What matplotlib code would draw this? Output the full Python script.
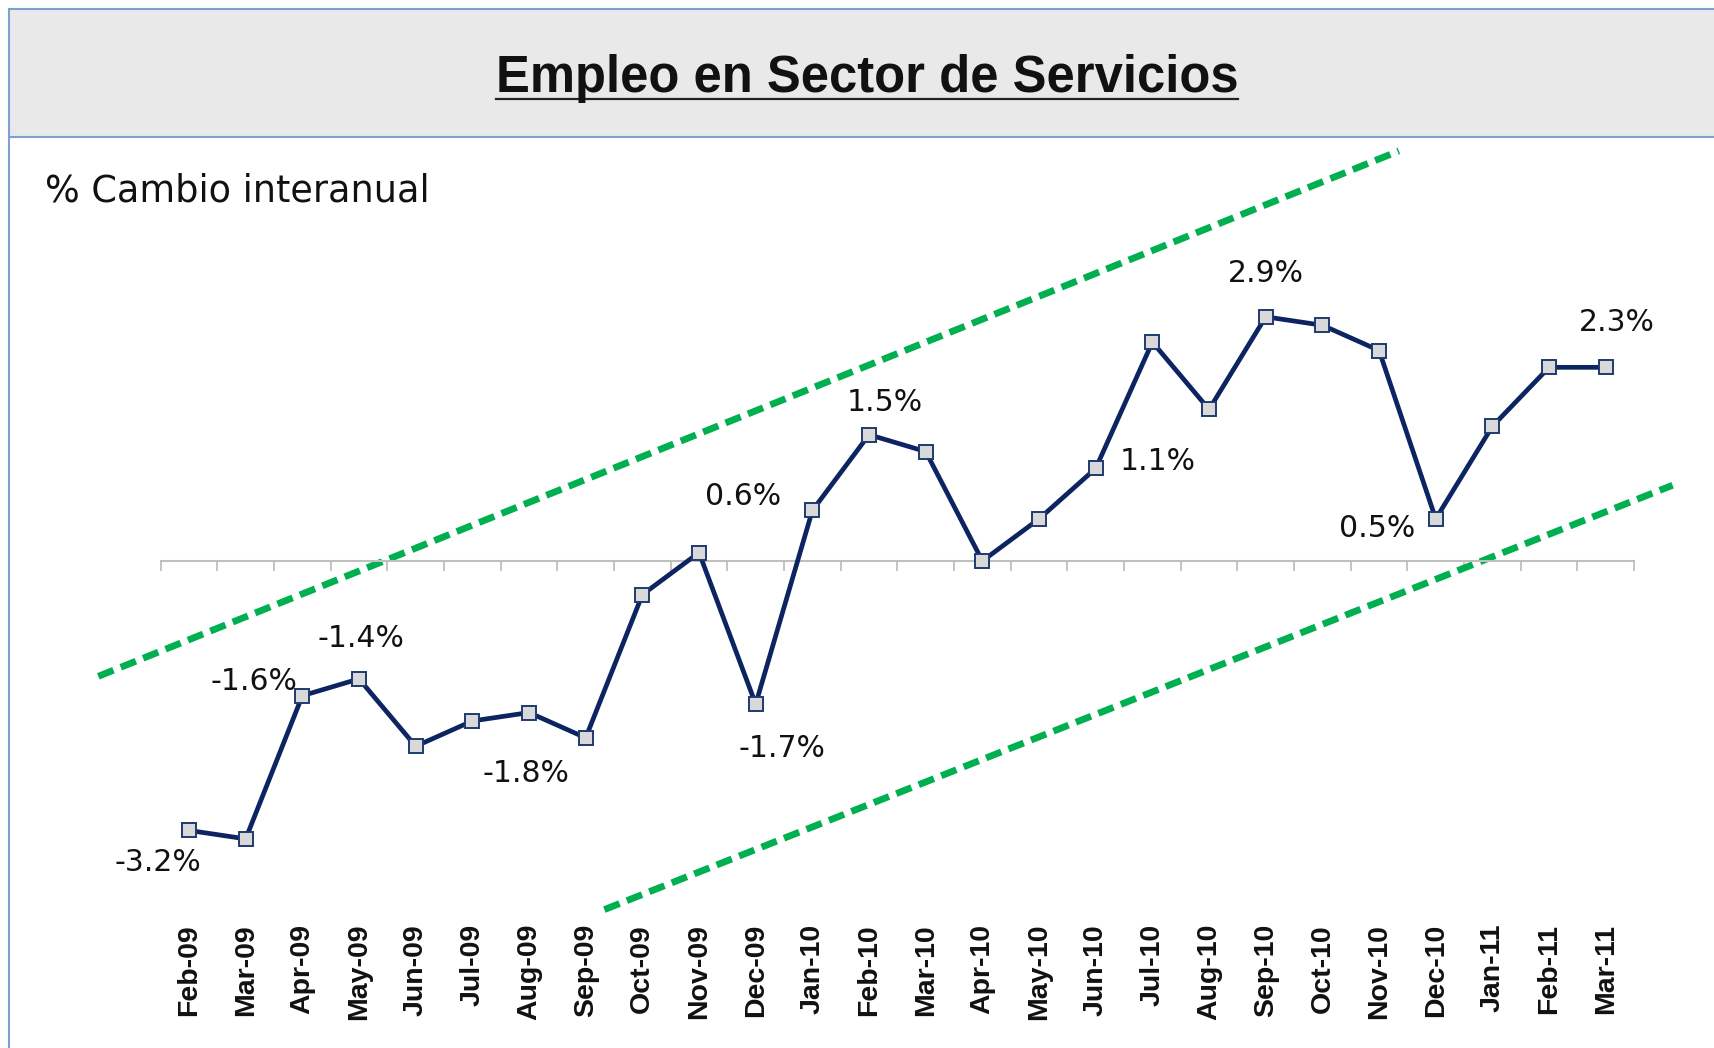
import matplotlib
matplotlib.use("Agg")
import matplotlib.pyplot as plt
from matplotlib import font_manager
from matplotlib.patches import Rectangle
from matplotlib.lines import Line2D
import matplotlib.transforms as mtransforms
import numpy as np

# ---------------- data ----------------
months = ["Feb-09", "Mar-09", "Apr-09", "May-09", "Jun-09", "Jul-09", "Aug-09",
          "Sep-09", "Oct-09", "Nov-09", "Dec-09", "Jan-10", "Feb-10", "Mar-10",
          "Apr-10", "May-10", "Jun-10", "Jul-10", "Aug-10", "Sep-10", "Oct-10",
          "Nov-10", "Dec-10", "Jan-11", "Feb-11", "Mar-11"]
values = [-3.2, -3.3, -1.6, -1.4, -2.2, -1.9, -1.8, -2.1, -0.4, 0.1, -1.7, 0.6,
          1.5, 1.3, 0.0, 0.5, 1.1, 2.6, 1.8, 2.9, 2.8, 2.5, 0.5, 1.6, 2.3, 2.3]
labelled = [0, 2, 3, 6, 10, 11, 12, 16, 19, 22, 25]
# channel (trend) lines: start/end in data units (x = month index, y = %)
upper_x = [-1.60, 21.35]
upper_y = [-1.37, 4.87]
lower_x = [7.33, 26.18]
lower_y = [-4.14, 0.90]

title = "Empleo en Sector de Servicios"
subtitle = "% Cambio interanual"

# ---------------- fonts ----------------
def has_font(name):
    try:
        font_manager.findfont(font_manager.FontProperties(family=name),
                              fallback_to_default=False)
        return True
    except Exception:
        return False

sans = "Liberation Sans" if has_font("Liberation Sans") else "DejaVu Sans"
tah = "DejaVu Sans"

# ---------------- figure ----------------
W, H = 1714, 1048
fig = plt.figure(figsize=(W / 100, H / 100), dpi=100)
fig.patch.set_facecolor("white")

ax = fig.add_axes([0, 0, 1, 1])
x0_px, dx_px = 189.0, 56.67      # pixel of first month, pixels per month
y0_px, dy_px = 561.0, 84.2       # pixel (from top) of zero, pixels per 1%
ax.set_xlim(-x0_px / dx_px, (W - x0_px) / dx_px)
ax.set_ylim(-(H - y0_px) / dy_px, y0_px / dy_px)
ax.set_facecolor("white")

for s in ["top", "left", "right"]:
    ax.spines[s].set_visible(False)
ax.spines["bottom"].set_position(("data", 0))
ax.spines["bottom"].set_bounds(-0.5, len(months) - 0.5)
ax.spines["bottom"].set_color("#bfbfbf")
ax.spines["bottom"].set_linewidth(1.5)
ax.set_yticks([])
ax.set_xticks([])
ax.set_xticks(np.arange(-0.5, len(months), 1.0), minor=True)
ax.tick_params(axis="x", which="minor", direction="out", length=7.5,
               width=1.3, color="#bfbfbf", labelbottom=False)

x = np.arange(len(months))

# trend channel
green = "#00b050"
for xs, ys in [(upper_x, upper_y), (lower_x, lower_y)]:
    ln, = ax.plot(xs, ys, color=green, lw=4.9, solid_capstyle="butt",
                  dash_capstyle="butt", zorder=2, clip_on=False)
    ln.set_dashes([2.4, 1.15])

# series
ax.plot(x, values, color="#0c2461", lw=3.4, marker="s", markersize=10.3,
        markerfacecolor="#d9d9d9", markeredgecolor="#1f3a70",
        markeredgewidth=1.4, zorder=3, clip_on=False)

# data labels (offsets in pixels: right, up)
offsets = {0: (-31, -32), 2: (-48, 14), 3: (2, 40), 6: (-3, -61),
           10: (26, -44), 11: (-69, 14), 12: (16, 32), 16: (62, 7),
           19: (0, 43), 22: (-59, -10), 25: (11, 45)}
for i in labelled:
    ox, oy = offsets[i]
    ax.annotate(f"{values[i]:.1f}%", (x[i], values[i]),
                xytext=(ox * 0.72, oy * 0.72), textcoords="offset points",
                ha="center", va="center", fontsize=21.5, family=tah,
                color="#111111", zorder=4)

# month labels
trans = mtransforms.blended_transform_factory(ax.transData, ax.transAxes)
for i, m in enumerate(months):
    ax.text(x[i], 1 - 924 / H, m, transform=trans, rotation=90,
            ha="center", va="top", fontsize=20.5, fontweight="bold",
            family=sans, color="#111111")

# title band
border = "#7f9fcf"
fig.patches.append(Rectangle((9 / W, 1 - 137 / H), 1 - 9 / W, 128 / H,
                             transform=fig.transFigure, facecolor="#e9e9e9",
                             edgecolor="none", zorder=5))
fig.lines.append(Line2D([9 / W, 1], [1 - 9 / H] * 2, transform=fig.transFigure,
                        color=border, lw=1.5, zorder=6))
fig.lines.append(Line2D([9 / W, 1], [1 - 137 / H] * 2, transform=fig.transFigure,
                        color=border, lw=1.5, zorder=6))
fig.lines.append(Line2D([9 / W, 9 / W], [0, 1 - 9 / H], transform=fig.transFigure,
                        color=border, lw=1.5, zorder=6))

t = fig.text(867 / W, 1 - 92 / H, title, ha="center", va="baseline",
             fontsize=36.5, fontweight="bold", family=sans, color="#111111",
             zorder=7)
fig.canvas.draw()
bb = t.get_window_extent(fig.canvas.get_renderer())
fig.lines.append(Line2D([bb.x0 / W, bb.x1 / W], [1 - 99 / H] * 2,
                        transform=fig.transFigure, color="#222222", lw=1.6,
                        zorder=7))

fig.text(45 / W, 1 - 202 / H, subtitle, ha="left", va="baseline",
         fontsize=26.4, family=tah, color="#111111")

fig.savefig("out.png", dpi=100)
